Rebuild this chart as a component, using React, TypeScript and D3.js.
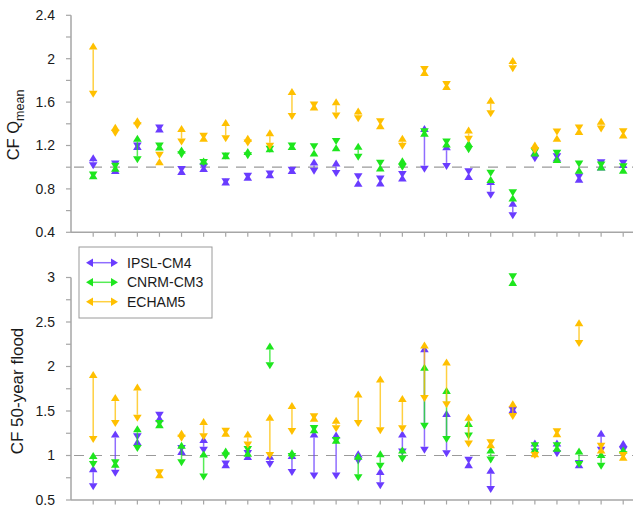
import React from "react";
import * as d3 from "d3";

const categories = d3.range(25).map((i) => `C${i + 1}`);
const seriesNames = ["IPSL-CM4", "CNRM-CM3", "ECHAM5"];
const seriesColors = ["#6a3cff", "#1ee61e", "#ffc000"];

// Top panel: CF Qmean (low, high) per catchment
const qmeanIPSL: [number, number][] = [
  [0.98, 1.12], [0.998, 1.002], [1.162, 1.224], [1.33, 1.385], [0.947, 0.993],
  [0.97, 1.02], [0.833, 0.895], [0.885, 0.94], [0.904, 0.962], [0.94, 1.002],
  [0.93, 1.08], [0.91, 1.07], [0.879, 0.885], [0.858, 0.886], [0.9, 0.932],
  [0.95, 1.39], [0.975, 1.22], [0.925, 0.946], [0.71, 0.9], [0.52, 0.7],
  [1.045, 1.17], [1.064, 1.116], [0.878, 0.922], [1.008, 1.033], [1.004, 1.056],
];
const qmeanCNRM: [number, number][] = [
  [0.895, 0.953], [0.977, 1.023], [1.036, 1.3], [1.163, 1.218], [1.083, 1.19],
  [1.01, 1.09], [1.07, 1.138], [1.074, 1.176], [1.134, 1.202], [1.162, 1.224],
  [1.156, 1.162], [1.205, 1.211], [1.06, 1.226], [1.003, 1.024], [0.968, 1.091],
  [1.294, 1.346], [1.2, 1.245], [1.128, 1.251], [0.913, 0.919], [0.733, 0.748],
  [1.111, 1.163], [1.097, 1.103], [0.998, 1.004], [0.987, 1.033], [0.972, 1.003],
];
const qmeanECHAM: [number, number][] = [
  [1.64, 2.15], [1.28, 1.4], [1.35, 1.46], [1.077, 1.083], [1.2, 1.39],
  [1.254, 1.3], [1.23, 1.445], [1.19, 1.3], [1.16, 1.35], [1.435, 1.73],
  [1.54, 1.586], [1.44, 1.635], [1.415, 1.55], [1.386, 1.414], [1.16, 1.3],
  [1.868, 1.906], [1.73, 1.776], [1.225, 1.375], [1.46, 1.65], [1.875, 2.015],
  [1.122, 1.236], [1.293, 1.299], [1.33, 1.362], [1.32, 1.455], [1.294, 1.33],
];

// Bottom panel: CF 50-year flood (low, high) per catchment
const floodIPSL: [number, number][] = [
  [0.61, 0.89], [0.76, 1.28], [1.17, 1.19], [1.414, 1.459], [1.04, 1.085],
  [1.02, 1.22], [0.864, 0.934], [0.984, 1.028], [0.86, 1.03], [0.77, 1.04],
  [0.73, 1.28], [0.73, 1.27], [0.9, 1.06], [0.62, 0.86], [1.0, 1.28],
  [1.02, 2.24], [0.98, 1.51], [0.908, 0.934], [0.58, 0.875], [1.47, 1.552],
  [1.0, 1.18], [0.98, 1.18], [0.872, 0.936], [1.02, 1.29], [1.02, 1.174],
];
const floodCNRM: [number, number][] = [
  [0.86, 1.04], [0.88, 0.94], [1.04, 1.34], [1.32, 1.384], [0.88, 1.155],
  [0.72, 1.055], [0.955, 1.09], [1.028, 1.066], [1.97, 2.27], [0.95, 1.07],
  [1.264, 1.328], [1.13, 1.21], [0.71, 1.03], [0.84, 1.06], [0.92, 1.1],
  [1.29, 2.03], [1.14, 1.77], [1.18, 1.4], [0.91, 1.1], [2.968, 2.984],
  [1.07, 1.11], [1.07, 1.12], [0.86, 1.09], [0.84, 1.05], [0.97, 1.1],
];
const floodECHAM: [number, number][] = [
  [1.14, 1.95], [1.32, 1.69], [1.38, 1.81], [0.766, 0.822], [1.155, 1.29],
  [1.17, 1.42], [1.234, 1.29], [1.08, 1.28], [0.96, 1.47], [1.23, 1.6],
  [1.395, 1.459], [1.26, 1.435], [1.32, 1.73], [1.24, 1.9], [1.26, 1.68],
  [1.6, 2.28], [1.53, 2.09], [1.09, 1.47], [1.103, 1.159], [1.4, 1.62],
  [0.96, 1.06], [1.227, 1.283], [2.22, 2.53], [1.066, 1.102], [0.96, 1.02],
];

const topTicks = d3.range(0.4, 2.41, 0.2);
const topLabels = ["0.4", "0.8", "1.2", "1.6", "2", "2.4"];
const botTicks = d3.range(0.5, 3.01, 0.25);
const botLabels = ["0.5", "1", "1.5", "2", "2.5", "3"];

const W = 633;
const H = 509;
const AXIS_X = 71;
const AH = 7; // arrowhead length
const AW = 4.3; // arrowhead half width
const axisColor = "#a6a6a6";
const textColor = "#1a1a1a";
const FONT = "'Liberation Sans', Arial, sans-serif";

const x = d3.scaleLinear().domain([0, categories.length - 1]).range([93.2, 623.2]);

function Arrows({ data, color, y }: { data: [number, number][]; color: string; y: d3.ScaleLinear<number, number> }) {
  return (
    <g>
      {data.map(([lo, hi], i) => {
        const cx = x(i);
        const yl = y(lo);
        const yh = y(hi);
        const up = `M${cx},${yh} L${cx - AW},${yh + AH} L${cx + AW},${yh + AH} Z`;
        const down = `M${cx},${yl} L${cx - AW},${yl - AH} L${cx + AW},${yl - AH} Z`;
        return (
          <g key={i}>
            {yl - yh > 2 * AH ? (
              <line x1={cx} x2={cx} y1={yl - AH} y2={yh + AH} stroke={color} strokeWidth={1.5} strokeOpacity={0.75} />
            ) : null}
            <path d={up} fill={color} />
            <path d={down} fill={color} />
          </g>
        );
      })}
    </g>
  );
}

function Panel({
  y, ticks, labels, yTop, yBottom, series,
}: {
  y: d3.ScaleLinear<number, number>;
  ticks: number[];
  labels: string[];
  yTop: number;
  yBottom: number;
  series: [number, number][][];
}) {
  return (
    <g>
      {/* y axis */}
      <line x1={AXIS_X} x2={AXIS_X} y1={yTop} y2={yBottom} stroke={axisColor} strokeWidth={1.5} />
      {ticks.map((t, i) => (
        <line key={i} x1={AXIS_X - 5} x2={AXIS_X} y1={y(t)} y2={y(t)} stroke={axisColor} strokeWidth={1.2} />
      ))}
      {labels.map((l) => (
        <text key={l} x={55} y={y(+l)} dy="0.35em" textAnchor="end" fontSize={14} fill={textColor} fontFamily={FONT}>
          {l}
        </text>
      ))}
      {/* x axis */}
      <line x1={AXIS_X} x2={W} y1={yBottom} y2={yBottom} stroke={axisColor} strokeWidth={1.5} />
      {categories.map((c, i) => (
        <line key={c} x1={x(i)} x2={x(i)} y1={yBottom} y2={yBottom + 4.5} stroke={axisColor} strokeWidth={1.2} />
      ))}
      {/* reference line */}
      <line x1={AXIS_X + 3} x2={W} y1={y(1)} y2={y(1)} stroke="#9a9a9a" strokeWidth={1.2} strokeDasharray="10,8" />
      {series.map((s, k) => (
        <Arrows key={k} data={s} color={seriesColors[k]} y={y} />
      ))}
    </g>
  );
}

export default function App() {
  const yTopPanel = d3.scaleLinear().domain([0.4, 2.4]).range([232.3, 15.3]);
  const yBotPanel = d3.scaleLinear().domain([0.5, 3]).range([500, 277.5]);
  const legendY = [262.7, 282.3, 301.7];
  return (
    <div style={{ position: "absolute", left: 0, top: 0 }}>
      <svg width={W} height={H} style={{ display: "block", background: "#fff" }}>
        <rect width={W} height={H} fill="#fff" />
        <Panel y={yTopPanel} ticks={topTicks} labels={topLabels} yTop={15.3} yBottom={232.3}
          series={[qmeanIPSL, qmeanCNRM, qmeanECHAM]} />
        <Panel y={yBotPanel} ticks={botTicks} labels={botLabels} yTop={277.5} yBottom={500}
          series={[floodIPSL, floodCNRM, floodECHAM]} />
        {/* y labels */}
        <text transform="translate(19,125) rotate(-90)" textAnchor="middle" fontSize={16.5} fill={textColor} fontFamily={FONT}>
          CF Q<tspan fontSize={12.5} dy={4.5}>mean</tspan>
        </text>
        <text transform="translate(23,391) rotate(-90)" textAnchor="middle" fontSize={17} fill={textColor} fontFamily={FONT}>
          CF 50-year flood
        </text>
        {/* legend */}
        <rect x={79} y={247} width={133} height={71} fill="#fff" stroke="#9a9a9a" strokeWidth={1} />
        {seriesNames.map((n, k) => {
          const ly = legendY[k];
          const c = seriesColors[k];
          return (
            <g key={n}>
              <line x1={92} x2={112} y1={ly} y2={ly} stroke={c} strokeWidth={1.5} strokeOpacity={0.75} />
              <path d={`M86,${ly} L${86 + AH},${ly - AW} L${86 + AH},${ly + AW} Z`} fill={c} />
              <path d={`M118,${ly} L${118 - AH},${ly - AW} L${118 - AH},${ly + AW} Z`} fill={c} />
              <text x={127} y={ly} dy="0.35em" fontSize={14} fill={textColor} fontFamily={FONT}>
                {n}
              </text>
            </g>
          );
        })}
      </svg>
    </div>
  );
}
